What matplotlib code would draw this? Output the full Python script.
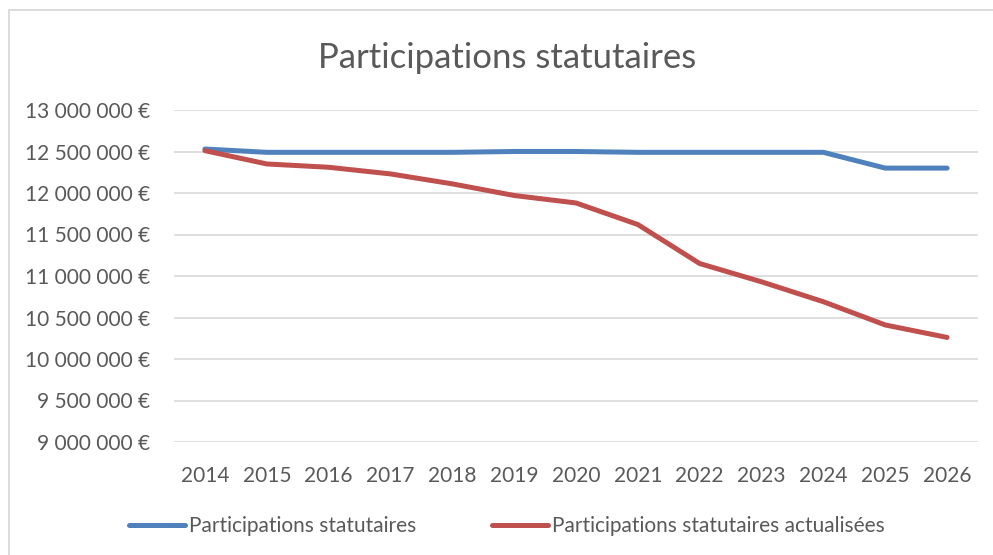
import numpy as np
import matplotlib
matplotlib.use("Agg")
import matplotlib.pyplot as plt
from matplotlib.patches import Rectangle
from matplotlib.ticker import FuncFormatter

plt.rcParams['font.family'] = ['Lato', 'DejaVu Sans']

years = [2014, 2015, 2016, 2017, 2018, 2019, 2020, 2021, 2022, 2023, 2024, 2025, 2026]
statutaires = [12530000, 12490000, 12490000, 12490000, 12490000, 12500000, 12500000,
               12490000, 12490000, 12490000, 12490000, 12300000, 12300000]
actualisees = [12510000, 12350000, 12310000, 12230000, 12110000, 11970000, 11880000,
               11620000, 11150000, 10930000, 10690000, 10410000, 10260000]
labels = ["Participations statutaires", "Participations statutaires actualisées"]
title = "Participations statutaires"

txt = "#595959"
grid = "#d9d9d9"

W, H = 993, 555
fig = plt.figure(figsize=(W / 100, H / 100), dpi=100)
# chart frame (right and bottom edges fall outside the picture)
fig.patches.append(Rectangle((9 / W, -0.1), 1.2, 1.1 - 10 / H, transform=fig.transFigure,
                             fill=False, edgecolor=grid, linewidth=1.3))

ax = fig.add_axes([174 / W, 1 - 442 / H, (978 - 174) / W, (442 - 110) / H])
x = np.arange(len(years))
l1, = ax.plot(x, statutaires, color="#4f81bd", linewidth=3.6, solid_capstyle="round")
l2, = ax.plot(x, actualisees, color="#c0504d", linewidth=3.6, solid_capstyle="round")

ax.set_xlim(-0.5, len(years) - 0.5)
ax.set_ylim(9000000, 13000000)
ax.set_yticks(np.arange(9000000, 13000001, 500000))
ax.yaxis.set_major_formatter(FuncFormatter(lambda v, p: f"{int(v):,} €".replace(",", " ")))
ax.set_xticks(x)
ax.set_xticklabels([str(y) for y in years])
ax.grid(axis="y", color=grid, linewidth=1.2)
ax.set_axisbelow(True)
for s in ax.spines.values():
    s.set_visible(False)
ax.tick_params(length=0, labelsize=15, labelcolor=txt)
ax.tick_params(axis="y", pad=17)
ax.tick_params(axis="x", pad=17)

fig.text(507 / W, 1 - 58 / H, title, ha="center", va="center", fontsize=25, color=txt)

leg = fig.legend([l1, l2], labels, loc="center", bbox_to_anchor=(507 / W, 1 - 526 / H),
                 ncol=2, frameon=False, fontsize=15, labelcolor=txt, handlelength=2.7,
                 handletextpad=0.2, columnspacing=3.6)

fig.savefig("out.png", dpi=100)
